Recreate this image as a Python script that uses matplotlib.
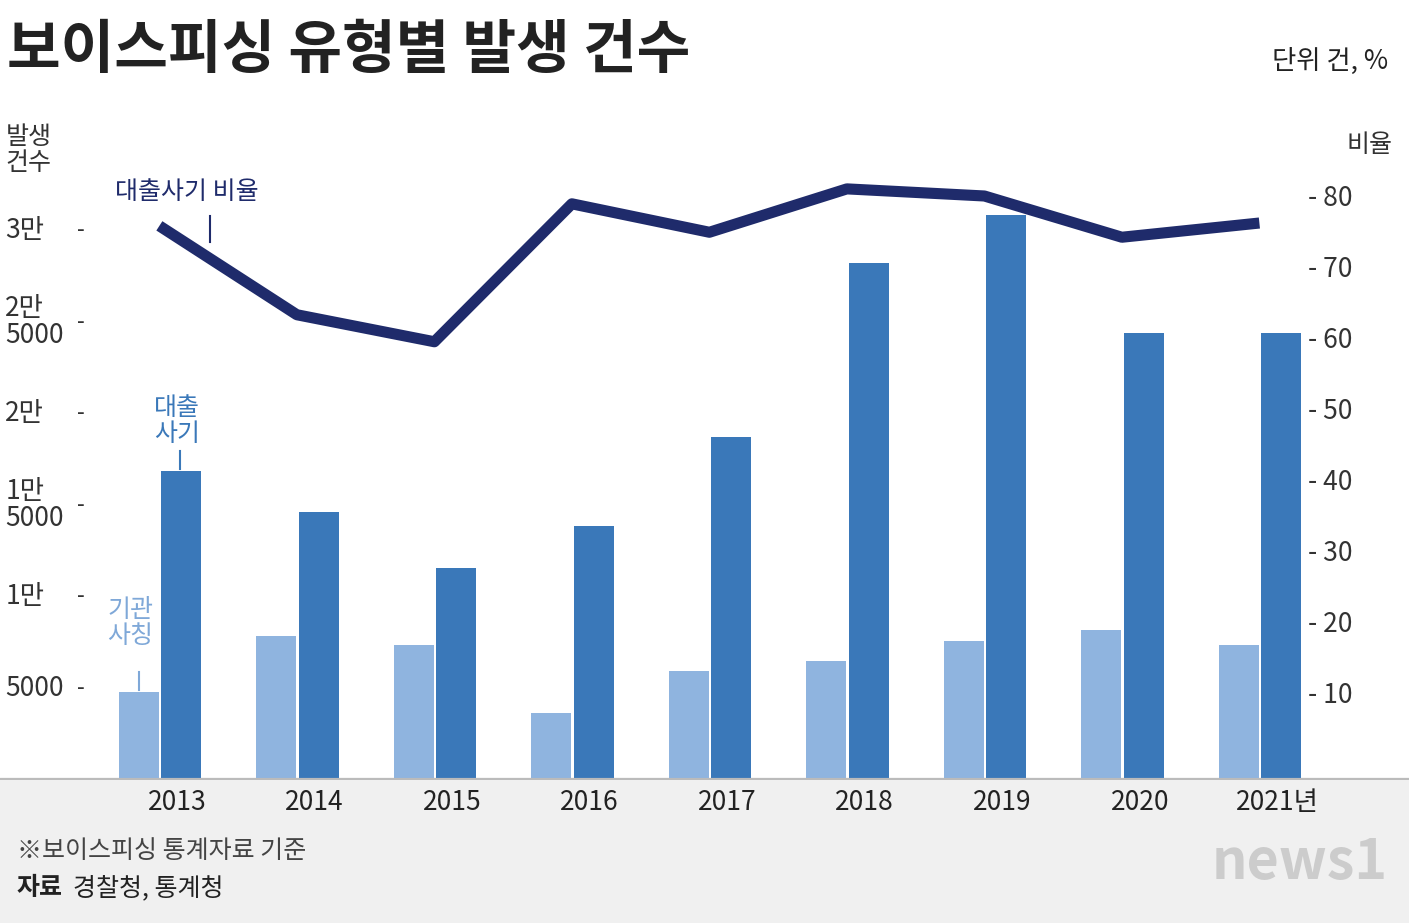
import matplotlib.pyplot as plt
import matplotlib.patches as mpatches

plt.rcParams['font.family'] = ['Noto Sans CJK KR', 'DejaVu Sans']

years = ['2013', '2014', '2015', '2016', '2017', '2018', '2019', '2020', '2021년']
loan_fraud = [16900, 14650, 11600, 13900, 18750, 28250, 30900, 24400, 24450]
impersonation = [4800, 7850, 7400, 3650, 5950, 6500, 7600, 8200, 7400]
loan_ratio = [76.1, 63.6, 59.8, 79.2, 75.2, 81.3, 80.3, 74.5, 76.5]
left_ticks = [5000, 10000, 15000, 20000, 25000, 30000]
left_labels = ['5000', '1만', '1만\n5000', '2만', '2만\n5000', '3만']
right_ticks = [10, 20, 30, 40, 50, 60, 70, 80]

W, H = 1409, 923
fig = plt.figure(figsize=(W / 100, H / 100), dpi=100)
fig.patch.set_facecolor('white')
fig.patches.append(mpatches.Rectangle((0, 0), 1, (H - 778) / H, transform=fig.transFigure,
                                      color='#f0f0f0', zorder=-5))

ax = fig.add_axes([0, (H - 780) / H, 1, 680 / H])
ax.set_xlim(-1.309, 8.938)
ax.set_ylim(0, 37158)
ax.axis('off')
ax.patch.set_alpha(0)

x = list(range(len(years)))
ax.bar([i - 0.3 for i in x], impersonation, width=0.29, color='#8fb4df', zorder=2)
ax.bar([i + 0.01 for i in x], loan_fraud, width=0.29, color='#3a78b9', zorder=2)
ax.axhline(0, color='#bbbbbb', lw=3, zorder=3)

ax2 = ax.twinx()
ax2.set_ylim(-1.83, 93.8)
ax2.axis('off')
ax2.plot([i - 0.15 for i in x], loan_ratio, color='#1f2b6b', lw=8, solid_capstyle='butt',
         solid_joinstyle='round', zorder=4)

gray = '#333333'
for v, lab in zip(left_ticks, left_labels):
    ax.text(-1.27, v, lab, ha='left', va='center', fontsize=19, color=gray, linespacing=1.0)
    ax.text(-0.72, v, '-', ha='center', va='center', fontsize=16, color=gray)
for v in right_ticks:
    ax2.text(8.2, v, '- ' + str(v), ha='left', va='center', fontsize=19, color=gray)

for i, y in enumerate(years):
    ax.text(i - 0.02, -1250, y, ha='center', va='center', fontsize=19, color='#222222', clip_on=False)

fig.text(0.005, 0.945, '보이스피싱 유형별 발생 건수', fontsize=42, fontweight='bold', color='#222222', va='center')
fig.text(0.985, 0.933, '단위 건, %', fontsize=19, ha='right', va='center', color='#222222')
fig.text(0.004, 0.837, '발생\n건수', fontsize=18, va='center', color=gray, linespacing=1.0)
fig.text(0.988, 0.843, '비율', fontsize=18, ha='right', va='center', color=gray)

ax2.text(-0.47, 80.9, '대출사기 비율', fontsize=18, color='#1f2b6b', va='center')
ax2.plot([0.22, 0.22], [77.5, 73.9], color='#1f2b6b', lw=1.5)
ax.text(-0.02, 19600, '대출\n사기', fontsize=18, color='#3a78b9', ha='center', va='center', linespacing=1.0)
ax.plot([0.0, 0.0], [17000, 18000], color='#3a78b9', lw=1.5)
ax.text(-0.36, 8600, '기관\n사칭', fontsize=18, color='#7fa8d8', ha='center', va='center', linespacing=1.0)
ax.plot([-0.3, -0.3], [4900, 5900], color='#7fa8d8', lw=1.5)

fig.text(0.012, 0.078, '※보이스피싱 통계자료 기준', fontsize=18, color='#444444', va='center')
fig.text(0.012, 0.038, '자료', fontsize=18, fontweight='bold', color='#222222', va='center')
fig.text(0.052, 0.038, '경찰청, 통계청', fontsize=18, color='#222222', va='center')
fig.text(0.985, 0.065, 'news1', fontsize=40, fontweight='bold', style='italic', color='#cccccc',
         ha='right', va='center')

fig.savefig('out.png', dpi=100)
